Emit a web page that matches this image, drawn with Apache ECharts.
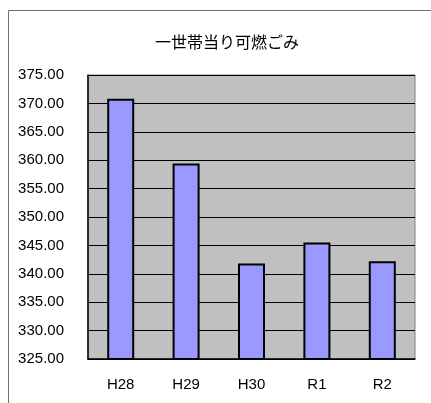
<!DOCTYPE html>
<html>
<head>
<meta charset="utf-8">
<script src="https://cdn.jsdelivr.net/npm/echarts@6/dist/echarts.min.js"></script>
<style>
html, body { margin: 0; padding: 0; background: #fff; }
#chart { width: 431px; height: 403px; }
</style>
</head>
<body>
<div id="chart"></div>
<script>
// 年度
var years = ['H28', 'H29', 'H30', 'R1', 'R2'];
// 一世帯当り可燃ごみ
var burnable = [370.8, 359.4, 341.8, 345.5, 342.2];
var titleText = '一世帯当り可燃ごみ';

var chart = echarts.init(document.getElementById('chart'));
chart.setOption({
    animation: false,
    textStyle: { fontFamily: 'Liberation Sans, Arial, sans-serif' },
    title: {
        text: titleText,
        left: 222,
        textAlign: 'center',
        top: 29,
        textStyle: {
            fontFamily: 'Noto Sans CJK JP',
            fontSize: 16,
            fontWeight: 'normal',
            color: '#000'
        }
    },
    graphic: [
        {
            type: 'polyline',
            shape: { points: [[8.5, 403], [8.5, 10.5], [431, 10.5]] },
            style: { stroke: '#6e6e6e', lineWidth: 1, fill: null }
        }
    ],
    grid: {
        left: 88,
        top: 75,
        right: 16,
        bottom: 44,
        show: true,
        backgroundColor: '#c0c0c0',
        borderColor: '#808080',
        borderWidth: 1
    },
    xAxis: {
        type: 'category',
        data: years,
        axisLine: { lineStyle: { color: '#000', width: 1.5 } },
        axisTick: { inside: true, length: 4, lineStyle: { color: '#000' } },
        axisLabel: { color: '#000', fontSize: 15, margin: 18 }
    },
    yAxis: {
        type: 'value',
        min: 325,
        max: 375,
        interval: 5,
        axisLine: { show: true, lineStyle: { color: '#000', width: 1.5 } },
        axisTick: { show: false },
        splitLine: { lineStyle: { color: '#000', width: 1 } },
        axisLabel: {
            color: '#000',
            fontSize: 15,
            margin: 24,
            formatter: function (v) { return v.toFixed(2); }
        }
    },
    series: [
        {
            type: 'bar',
            data: burnable,
            barWidth: 27,
            itemStyle: {
                color: '#9999ff',
                borderColor: '#000',
                borderWidth: 2
            }
        }
    ]
});
</script>
</body>
</html>
